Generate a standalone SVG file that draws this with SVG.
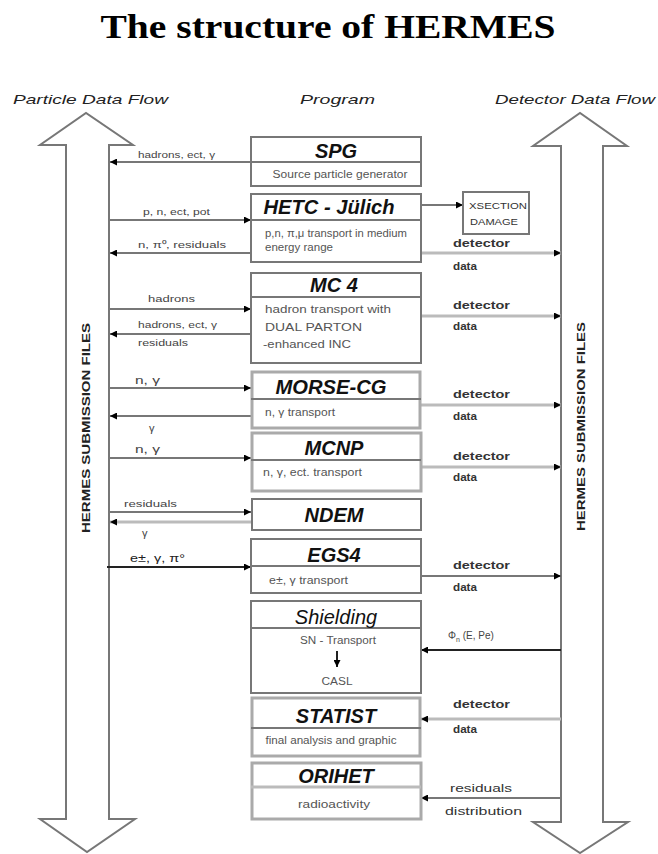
<svg xmlns="http://www.w3.org/2000/svg" width="658" height="854" viewBox="0 0 658 854">
<style>
.title{font-family:"Liberation Serif",serif;font-weight:bold;font-size:34px;fill:#000}
.hdr{font-family:"Liberation Sans",Arial,sans-serif;font-style:italic;font-size:13px;fill:#222}
.side{font-family:"Liberation Sans",Arial,sans-serif;font-weight:bold;font-size:11px;fill:#222}
.box{fill:#fff;stroke:#777;stroke-width:2}
.box2{fill:#fff;stroke:#aaa;stroke-width:3}
.div{stroke:#777;stroke-width:2}
.name{font-family:"Liberation Sans",Arial,sans-serif;font-style:italic;font-weight:bold;font-size:20px;fill:#111;text-anchor:middle}
.sub{font-family:"Liberation Sans",Arial,sans-serif;font-size:10px;fill:#555}
.subc{font-family:"Liberation Sans",Arial,sans-serif;font-size:10px;fill:#555;text-anchor:middle}
.lbl{font-family:"Liberation Sans",Arial,sans-serif;font-size:9.5px;fill:#444}
.dd{font-family:"Liberation Sans",Arial,sans-serif;font-weight:bold;font-size:11px;fill:#333}
.ln{stroke:#777;stroke-width:2;fill:none}
.lnl{stroke:#bbb;stroke-width:3;fill:none}
.lnk{stroke:#222;stroke-width:2;fill:none}
.big{fill:#fff;stroke:#777;stroke-width:2}
</style>
<defs>
<marker id="ah" viewBox="0 0 10 10" refX="10" refY="5" markerWidth="8" markerHeight="7" orient="auto" markerUnits="userSpaceOnUse">
<path d="M0,0 L10,5 L0,10 z" fill="#000"/>
</marker>
</defs>
<rect width="658" height="854" fill="#fff"/>
<text class="title" x="328" y="38" text-anchor="middle" textLength="455" lengthAdjust="spacingAndGlyphs">The structure of HERMES</text>
<text class="hdr" x="13" y="104" textLength="155" lengthAdjust="spacingAndGlyphs">Particle Data Flow</text>
<text class="hdr" x="300" y="104" textLength="75" lengthAdjust="spacingAndGlyphs">Program</text>
<text class="hdr" x="495" y="104" textLength="160" lengthAdjust="spacingAndGlyphs">Detector Data Flow</text>

<g id="left-flow">
<path class="big" d="M66,819 L66,145 L40,145 L86,113 L133,145 L109,145 L109,819 L135,819 L87,852 L40,819 Z"/>
<text class="side" transform="translate(90,533) rotate(-90)" textLength="210" lengthAdjust="spacingAndGlyphs">HERMES SUBMISSION FILES</text>
</g>
<g id="right-flow">
<path class="big" d="M561,822 L561,146 L533,146 L580,113 L627,146 L603,146 L603,822 L628,822 L580,853 L533,822 Z"/>
<text class="side" transform="translate(585,531) rotate(-90)" textLength="209" lengthAdjust="spacingAndGlyphs">HERMES SUBMISSION FILES</text>
</g>

<g id="connectors">
<line class="ln" x1="251" y1="162" x2="110" y2="162" marker-end="url(#ah)"/>
<line class="ln" x1="109" y1="220" x2="251" y2="220" marker-end="url(#ah)"/>
<line class="ln" x1="251" y1="253" x2="110" y2="253" marker-end="url(#ah)"/>
<line class="ln" x1="421" y1="205" x2="463" y2="205" marker-end="url(#ah)"/>
<line class="lnl" x1="421" y1="253" x2="561" y2="253" marker-end="url(#ah)"/>
<line class="ln" x1="109" y1="309" x2="251" y2="309" marker-end="url(#ah)"/>
<line class="ln" x1="251" y1="334" x2="110" y2="334" marker-end="url(#ah)"/>
<line class="lnl" x1="421" y1="316" x2="561" y2="316" marker-end="url(#ah)"/>
<line class="ln" x1="109" y1="388" x2="251" y2="388" marker-end="url(#ah)"/>
<line class="ln" x1="251" y1="416" x2="110" y2="416" marker-end="url(#ah)"/>
<line class="lnl" x1="421" y1="405" x2="561" y2="405" marker-end="url(#ah)"/>
<line class="ln" x1="109" y1="458" x2="251" y2="458" marker-end="url(#ah)"/>
<line class="lnl" x1="421" y1="467" x2="561" y2="467" marker-end="url(#ah)"/>
<line class="ln" x1="109" y1="512" x2="251" y2="512" marker-end="url(#ah)"/>
<line class="lnl" x1="251" y1="522" x2="110" y2="522" marker-end="url(#ah)"/>
<line class="lnk" x1="107" y1="567" x2="251" y2="567" marker-end="url(#ah)"/>
<line class="ln" x1="421" y1="576" x2="561" y2="576" marker-end="url(#ah)"/>
<line class="lnk" x1="561" y1="650" x2="421" y2="650" marker-end="url(#ah)"/>
<line class="lnl" x1="561" y1="719" x2="421" y2="719" marker-end="url(#ah)"/>
<line class="ln" x1="561" y1="798" x2="421" y2="798" marker-end="url(#ah)"/>

<text class="lbl" x="138" y="158" textLength="77" lengthAdjust="spacingAndGlyphs">hadrons, ect, γ</text>
<text class="lbl" x="143" y="215" textLength="67" lengthAdjust="spacingAndGlyphs">p, n, ect, pot</text>
<text class="lbl" x="138" y="248" textLength="88" lengthAdjust="spacingAndGlyphs">n, π⁰, residuals</text>
<text class="lbl" x="148" y="302" textLength="47" lengthAdjust="spacingAndGlyphs">hadrons</text>
<text class="lbl" x="138" y="328" textLength="79" lengthAdjust="spacingAndGlyphs">hadrons, ect, γ</text>
<text class="lbl" x="138" y="346" textLength="50" lengthAdjust="spacingAndGlyphs">residuals</text>
<text class="lbl" x="135" y="384" style="font-size:11px" textLength="25" lengthAdjust="spacingAndGlyphs">n, γ</text>
<text class="lbl" x="149" y="432" style="font-size:11px">γ</text>
<text class="lbl" x="135" y="453" style="font-size:11px" textLength="25" lengthAdjust="spacingAndGlyphs">n, γ</text>
<text class="lbl" x="124" y="507" textLength="53" lengthAdjust="spacingAndGlyphs">residuals</text>
<text class="lbl" x="142" y="537" style="font-size:11px">γ</text>
<text class="lbl" x="130" y="562" style="font-size:11px;fill:#222" textLength="55" lengthAdjust="spacingAndGlyphs">e±, γ, π°</text>
<text class="lbl" x="448" y="639" style="font-size:10px">Φ<tspan dy="3" style="font-size:7px">n</tspan><tspan dy="-3"> (E, Pe)</tspan></text>
<text class="dd" x="453" y="247" textLength="57" lengthAdjust="spacingAndGlyphs">detector</text>
<text class="dd" x="453" y="270" textLength="24" lengthAdjust="spacingAndGlyphs">data</text>
<text class="dd" x="453" y="309" textLength="57" lengthAdjust="spacingAndGlyphs">detector</text>
<text class="dd" x="453" y="330" textLength="24" lengthAdjust="spacingAndGlyphs">data</text>
<text class="dd" x="453" y="398" textLength="57" lengthAdjust="spacingAndGlyphs">detector</text>
<text class="dd" x="453" y="420" textLength="24" lengthAdjust="spacingAndGlyphs">data</text>
<text class="dd" x="453" y="460" textLength="57" lengthAdjust="spacingAndGlyphs">detector</text>
<text class="dd" x="453" y="481" textLength="24" lengthAdjust="spacingAndGlyphs">data</text>
<text class="dd" x="453" y="569" textLength="57" lengthAdjust="spacingAndGlyphs">detector</text>
<text class="dd" x="453" y="591" textLength="24" lengthAdjust="spacingAndGlyphs">data</text>
<text class="dd" x="453" y="708" textLength="57" lengthAdjust="spacingAndGlyphs">detector</text>
<text class="dd" x="453" y="733" textLength="24" lengthAdjust="spacingAndGlyphs">data</text>
<text class="dd" x="450" y="792" style="font-weight:normal;font-size:10px" textLength="62" lengthAdjust="spacingAndGlyphs">residuals</text>
<text class="dd" x="445" y="815" style="font-weight:normal;font-size:10px" textLength="77" lengthAdjust="spacingAndGlyphs">distribution</text>
</g>

<g id="spg">
<rect class="box" x="251" y="137" width="170" height="49"/>
<line class="div" x1="251" y1="162" x2="421" y2="162"/>
<text class="name" x="336" y="158">SPG</text>
<text class="subc" x="340" y="178" textLength="135" lengthAdjust="spacingAndGlyphs">Source particle generator</text>
</g>
<g id="hetc">
<rect class="box" x="251" y="194" width="170" height="68"/>
<line class="div" x1="251" y1="220" x2="421" y2="220"/>
<text class="name" x="329" y="214" textLength="131" lengthAdjust="spacingAndGlyphs">HETC - Jülich</text>
<text class="sub" x="265" y="237" textLength="142" lengthAdjust="spacingAndGlyphs">p,n, π,μ transport in medium</text>
<text class="sub" x="265" y="251" textLength="68" lengthAdjust="spacingAndGlyphs">energy range</text>
</g>
<g id="xsection">
<rect class="box" x="463" y="192" width="66" height="42"/>
<text class="subc" x="498" y="209" style="font-size:9px;fill:#333" textLength="58" lengthAdjust="spacingAndGlyphs">XSECTION</text>
<text class="subc" x="494" y="225" style="font-size:9px;fill:#333" textLength="48" lengthAdjust="spacingAndGlyphs">DAMAGE</text>
</g>
<g id="mc4">
<rect class="box" x="251" y="273" width="170" height="90"/>
<line class="div" x1="251" y1="297" x2="421" y2="297"/>
<text class="name" x="334" y="292">MC 4</text>
<text class="sub" x="265" y="313" style="font-size:11px" textLength="126" lengthAdjust="spacingAndGlyphs">hadron transport with</text>
<text class="sub" x="265" y="331" style="font-size:11px" textLength="97" lengthAdjust="spacingAndGlyphs">DUAL PARTON</text>
<text class="sub" x="263" y="348" style="font-size:11px" textLength="88" lengthAdjust="spacingAndGlyphs">-enhanced INC</text>
</g>
<g id="morse">
<rect class="box2" x="252" y="372" width="168" height="56"/>
<line class="div" x1="251" y1="399" x2="421" y2="399"/>
<text class="name" x="331" y="394" textLength="111" lengthAdjust="spacingAndGlyphs">MORSE-CG</text>
<text class="sub" x="265" y="416" textLength="70" lengthAdjust="spacingAndGlyphs">n, γ transport</text>
</g>
<g id="mcnp">
<rect class="box2" x="252" y="433" width="169" height="58"/>
<line class="div" x1="251" y1="460" x2="421" y2="460"/>
<text class="name" x="334" y="455">MCNP</text>
<text class="sub" x="263" y="476" textLength="99" lengthAdjust="spacingAndGlyphs">n, γ, ect. transport</text>
</g>
<g id="ndem">
<rect class="box" x="252" y="499" width="169" height="31"/>
<text class="name" x="334" y="522">NDEM</text>
</g>
<g id="egs4">
<rect class="box" x="251" y="539" width="170" height="54"/>
<line class="div" x1="251" y1="566" x2="421" y2="566"/>
<text class="name" x="334" y="562">EGS4</text>
<text class="sub" x="269" y="584" textLength="79" lengthAdjust="spacingAndGlyphs">e±, γ transport</text>
</g>
<g id="shielding">
<rect class="box" x="251" y="601" width="170" height="92"/>
<line class="div" x1="251" y1="628" x2="421" y2="628"/>
<text class="name" x="336" y="624" style="font-weight:normal">Shielding</text>
<text class="subc" x="338" y="644" textLength="76" lengthAdjust="spacingAndGlyphs">SN - Transport</text>
<line class="lnk" x1="337" y1="651" x2="337" y2="667" marker-end="url(#ah)"/>
<text class="subc" x="337" y="685" textLength="31" lengthAdjust="spacingAndGlyphs">CASL</text>
</g>
<g id="statist">
<rect class="box2" x="252" y="698" width="168" height="58"/>
<line class="div" x1="251" y1="728" x2="421" y2="728"/>
<text class="name" x="336" y="723">STATIST</text>
<text class="subc" x="331" y="744" textLength="131" lengthAdjust="spacingAndGlyphs">final analysis and graphic</text>
</g>
<g id="orihet">
<rect class="box2" x="252" y="763" width="169" height="56"/>
<line class="lnl" x1="251" y1="787" x2="421" y2="787"/>
<text class="name" x="336" y="783">ORIHET</text>
<text class="subc" x="334" y="808" style="font-size:11px" textLength="72" lengthAdjust="spacingAndGlyphs">radioactivity</text>
</g>
</svg>
